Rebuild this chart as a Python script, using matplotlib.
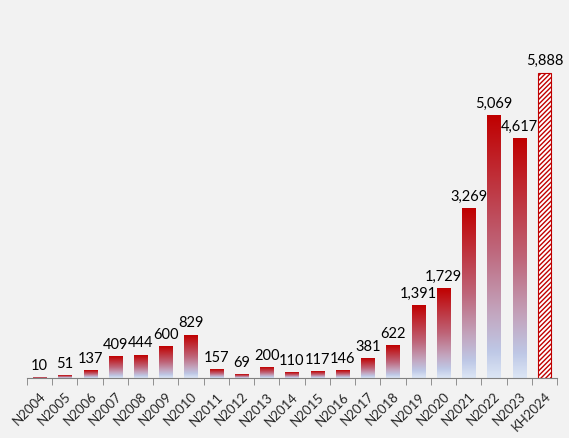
import numpy as np
import matplotlib
matplotlib.use("Agg")
from matplotlib import pyplot as plt
from matplotlib.colors import LinearSegmentedColormap
from matplotlib.transforms import ScaledTranslation

labels = ['N2004', 'N2005', 'N2006', 'N2007', 'N2008', 'N2009', 'N2010', 'N2011',
          'N2012', 'N2013', 'N2014', 'N2015', 'N2016', 'N2017', 'N2018', 'N2019',
          'N2020', 'N2021', 'N2022', 'N2023', 'KH2024']
values = [10, 51, 137, 409, 444, 600, 829, 157, 69, 200, 110, 117, 146, 381, 622,
          1391, 1729, 3269, 5069, 4617, 5888]

plt.rcParams['font.family'] = ['Lato', 'DejaVu Sans']
plt.rcParams['hatch.color'] = '#c00000'
plt.rcParams['hatch.linewidth'] = 1.0

bg = '#f2f2f2'
fig = plt.figure(figsize=(5.69, 4.38), dpi=100, facecolor=bg)
ax = fig.add_axes([27 / 569, 1 - 378 / 438, 530 / 569, 338 / 438], facecolor=bg)

# bottom -> top gradient
grad = LinearSegmentedColormap.from_list('bar', [
    (0.0, '#dce6f5'), (0.1, '#bec8e6'), (0.25, '#c3a5be'),
    (0.5, '#be6478'), (1.0, '#c00000')])
ramp = np.linspace(0, 1, 256).reshape(-1, 1)

w = 0.52
x = np.arange(len(labels))
for i, v in enumerate(values):
    if i < len(values) - 1:
        ax.imshow(ramp, cmap=grad, origin='lower', aspect='auto',
                  extent=(i - w / 2, i + w / 2, 0, v), zorder=2)
    else:
        ax.bar(i, v, width=w, color='white', edgecolor='#c00000', hatch='///////',
               linewidth=0.8, zorder=2)
    ax.text(i, v + 90, f'{v:,}', ha='center', va='bottom', fontsize=10.5,
            color='black', zorder=3)

ax.set_xlim(-0.5, len(labels) - 0.5)
ax.set_ylim(0, 6525)

ax.set_xticks(x)
ax.set_xticklabels(labels, rotation=45, ha='right', rotation_mode='anchor',
                   fontsize=9.5, color='#262626')
shift = ScaledTranslation(5 / 100, -4 / 100, fig.dpi_scale_trans)
for t in ax.get_xticklabels():
    t.set_transform(t.get_transform() + shift)
ax.set_xticks(np.arange(-0.5, len(labels)), minor=True)
ax.tick_params(axis='x', which='major', length=0, pad=9)
ax.tick_params(axis='x', which='minor', length=5, color='#808080')
ax.set_yticks([])
for s in ['left', 'right', 'top']:
    ax.spines[s].set_visible(False)
ax.spines['bottom'].set_color('#808080')

fig.savefig('out.png', dpi=100, facecolor=bg)
